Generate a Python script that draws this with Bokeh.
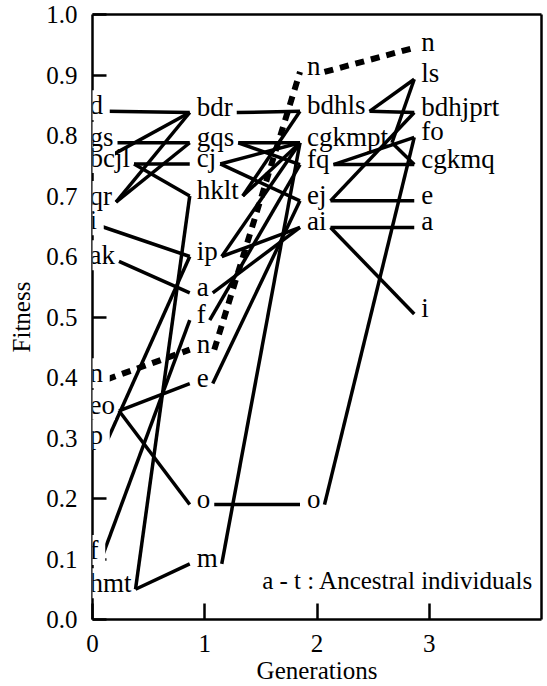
from bokeh.plotting import figure
from bokeh.models import (ColumnDataSource, LabelSet, Label, LinearAxis,
                          FixedTicker, PrintfTickFormatter, Range1d)
from bokeh.core.properties import value
from bokeh.embed import file_html
from bokeh.resources import INLINE

# ---------------- data ----------------
GEN0_LABELS = ["d", "gs", "bcjl", "qr", "i", "ak", "n", "eo", "p", "f", "hmt"]
GEN0_FIT = [0.840, 0.788, 0.753, 0.690, 0.650, 0.592, 0.397, 0.345, 0.295, 0.105, 0.050]

GEN1_LABELS = ["bdr", "gqs", "cj", "hklt", "ip", "a", "f", "n", "e", "o", "m"]
GEN1_FIT = [0.838, 0.788, 0.753, 0.700, 0.600, 0.540, 0.495, 0.446, 0.390, 0.190, 0.092]

GEN2_LABELS = ["n", "bdhls", "cgkmpt", "fq", "ej", "ai", "o"]
GEN2_FIT = [0.905, 0.840, 0.788, 0.752, 0.692, 0.648, 0.190]

GEN3_LABELS = ["n", "ls", "bdhjprt", "fo", "cgkmq", "e", "a", "i"]
GEN3_FIT = [0.945, 0.893, 0.838, 0.797, 0.752, 0.692, 0.648, 0.505]

# links between groups of consecutive generations (from, to)
EDGES_01 = [("d", "bdr"), ("gs", "gqs"), ("bcjl", "bdr"), ("bcjl", "cj"),
            ("bcjl", "hklt"), ("qr", "bdr"), ("qr", "gqs"), ("i", "ip"),
            ("ak", "a"), ("eo", "e"), ("eo", "o"), ("p", "ip"), ("f", "f"),
            ("hmt", "hklt"), ("hmt", "m")]
EDGES_12 = [("bdr", "bdhls"), ("gqs", "cgkmpt"), ("gqs", "fq"),
            ("cj", "cgkmpt"), ("cj", "ej"), ("hklt", "bdhls"), ("hklt", "cgkmpt"),
            ("ip", "cgkmpt"), ("ip", "ai"), ("a", "ai"), ("f", "fq"),
            ("e", "ej"), ("o", "o"), ("m", "cgkmpt")]
EDGES_23 = [("bdhls", "ls"), ("bdhls", "bdhjprt"), ("cgkmpt", "ls"),
            ("cgkmpt", "cgkmq"), ("fq", "fo"), ("fq", "cgkmq"),
            ("ej", "bdhjprt"), ("ej", "e"), ("ai", "a"), ("ai", "i"), ("o", "fo")]
BEST = "n"   # lineage drawn dashed

X_TICKS = [0, 1, 2, 3]
Y_TICKS = [0.0, 0.1, 0.2, 0.3, 0.4, 0.5, 0.6, 0.7, 0.8, 0.9, 1.0]
X_LABEL = "Generations"
Y_LABEL = "Fitness"
NOTE = "a - t : Ancestral individuals"

# ---------------- layout / style ----------------
FONT = "Liberation Serif"
NODE_FS = 27
TEXT_FS = 25
FRAME_W, FRAME_H = 449, 605
PX = FRAME_W / 4.0            # pixels per generation
SHIFT_PX = [-3, -8, -10, -8]  # label start relative to generation
GAP_START, GAP_END = 4, 7
START_PREFIX = {(0, "bcjl", "bdr"): "b"}
START_LIFT = 0.010
NOTE_POS = (3.93, 0.064)
CHAR_W = dict(a=444, b=500, c=444, d=500, e=444, f=333, g=500, h=500, i=278,
              j=278, k=500, l=278, m=778, n=500, o=500, p=500, q=500, r=333,
              s=389, t=278)

gens = [(GEN0_LABELS, GEN0_FIT), (GEN1_LABELS, GEN1_FIT),
        (GEN2_LABELS, GEN2_FIT), (GEN3_LABELS, GEN3_FIT)]
fit = [dict(zip(l, f)) for l, f in gens]


def tx(g):
    return g + SHIFT_PX[g] / PX


def tw(s):
    return sum(CHAR_W[c] for c in s) / 1000.0 * NODE_FS


def sx(g, lab):
    return tx(g) + (tw(lab) + GAP_START) / PX


def ex(g):
    return tx(g) - GAP_END / PX


p = figure(frame_width=FRAME_W, frame_height=FRAME_H,
           x_range=Range1d(0, 4), y_range=Range1d(0, 1),
           output_backend="svg", toolbar_location=None,
           min_border_left=92, min_border_top=14, min_border_right=2,
           min_border_bottom=58, background_fill_color="white",
           border_fill_color="white", outline_line_color=None)
p.grid.visible = False

# links
xs, ys = [], []
for g, edges in enumerate([EDGES_01, EDGES_12, EDGES_23]):
    for a, b in edges:
        pre = START_PREFIX.get((g, a, b))
        x0 = sx(g, pre if pre else a)
        y0 = fit[g][a] + (START_LIFT if pre else 0.0)
        xs.append([x0, ex(g + 1)])
        ys.append([y0, fit[g + 1][b]])
p.multi_line(xs, ys, line_color="black", line_width=3.5)

# best lineage, dashed
bxs, bys = [], []
for g in range(3):
    bxs.append([sx(g, BEST), ex(g + 1)])
    bys.append([fit[g][BEST], fit[g + 1][BEST]])
p.multi_line(bxs, bys, line_color="black", line_width=6, line_dash="9 7")

# white boxes behind the first generation's labels (they hide the axis)
box_txt = [l[:2] if len(l) > 1 else l + " " for l in GEN0_LABELS]
box_src = ColumnDataSource(dict(x=[tx(0)] * len(GEN0_LABELS), y=GEN0_FIT,
                                text=box_txt))
p.add_layout(LabelSet(x="x", y="y", text="text", source=box_src,
                      text_font=value(FONT), text_font_size=f"{NODE_FS}px",
                      text_alpha=0.0, text_baseline="alphabetic",
                      text_align="left", y_offset=-3,
                      background_fill_color="white"))

# node labels
lx, ly, lt = [], [], []
for g, (labs, fits) in enumerate(gens):
    for l, f in zip(labs, fits):
        lx.append(tx(g)); ly.append(f); lt.append(l)
src = ColumnDataSource(dict(x=lx, y=ly, text=lt))
p.add_layout(LabelSet(x="x", y="y", text="text", source=src,
                      text_font=value(FONT), text_font_size=f"{NODE_FS}px",
                      text_color="black", text_baseline="alphabetic",
                      text_align="left", y_offset=-3))

p.add_layout(Label(x=NOTE_POS[0], y=NOTE_POS[1], text=NOTE, text_font=FONT,
                   text_font_size=f"{TEXT_FS}px", text_align="right",
                   text_baseline="alphabetic", text_color="black"))

# axes
for ax in p.xaxis:
    ax.ticker = FixedTicker(ticks=X_TICKS)
    ax.axis_label = X_LABEL
for ax in p.yaxis:
    ax.ticker = FixedTicker(ticks=Y_TICKS)
    ax.formatter = PrintfTickFormatter(format="%.1f")
    ax.axis_label = Y_LABEL
for ax, tin in ((p.xaxis[0], 16), (p.yaxis[0], 14)):
    ax.axis_line_width = 2.5
    ax.axis_line_color = "black"
    ax.major_tick_line_width = 2.5
    ax.major_tick_line_color = "black"
    ax.major_tick_in = tin
    ax.major_tick_out = 0
    ax.minor_tick_line_color = None
    ax.major_label_text_font = FONT
    ax.major_label_text_font_size = f"{TEXT_FS}px"
    ax.major_label_text_color = "black"
    ax.axis_label_text_font = FONT
    ax.axis_label_text_font_size = f"{TEXT_FS}px"
    ax.axis_label_text_font_style = "normal"
    ax.axis_label_text_color = "black"
p.yaxis[0].major_label_standoff = 15
p.yaxis[0].axis_label_standoff = 8
p.xaxis[0].major_label_standoff = 15
p.xaxis[0].axis_label_standoff = 2

for loc in ("above", "right"):
    fr = LinearAxis(ticker=FixedTicker(ticks=[]), axis_line_width=2.5,
                    axis_line_color="black", major_tick_in=0, major_tick_out=0,
                    minor_tick_line_color=None, major_label_text_font_size="0px",
                    major_label_standoff=0)
    p.add_layout(fr, loc)

open("out.html", "w").write(file_html(p, INLINE))
